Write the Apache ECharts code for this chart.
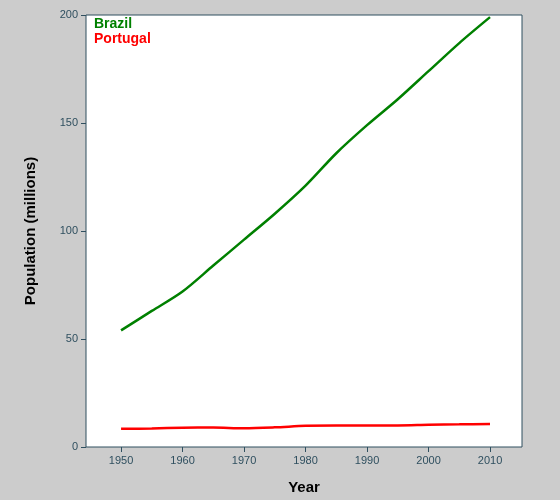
<!DOCTYPE html>
<html><head><meta charset="utf-8">
<script src="https://cdn.jsdelivr.net/npm/echarts@6/dist/echarts.min.js"></script>
<style>body{margin:0;background:#cccccc}#c{width:560px;height:500px}</style>
</head><body><div id="c"></div>
<script>
const years = [1950,1955,1960,1965,1970,1975,1980,1985,1990,1995,2000,2005,2010];
const brazil = [54,63,72,84,96,108,121,136,149,161,174,187,199];
const portugal = [8.4,8.6,8.9,9.0,8.7,9.1,9.8,10.0,10.0,10.0,10.3,10.5,10.7];
const xTicks = [1950,1960,1970,1980,1990,2000,2010];
const axisCol = '#2f4f5f';
const chart = echarts.init(document.getElementById('c'));
chart.setOption({
  backgroundColor:'#cccccc',
  animation:false,
  grid:{left:86,right:38,top:15,bottom:53,show:true,backgroundColor:'#ffffff',borderColor:axisCol,borderWidth:1},
  xAxis:{type:'value',min:1944.3,max:2015.2,name:'Year',nameLocation:'middle',nameGap:33,
    nameTextStyle:{fontFamily:'Liberation Sans',fontWeight:'bold',fontSize:15,color:'#000'},
    axisLine:{show:false},splitLine:{show:false},
    axisTick:{show:true,inside:false,length:5,lineStyle:{color:axisCol},customValues:xTicks},
    axisLabel:{color:axisCol,fontFamily:'Liberation Sans',fontSize:11,customValues:xTicks,formatter:v=>String(v)}},
  yAxis:{type:'value',min:0,max:200,interval:50,name:'Population (millions)',nameLocation:'middle',nameGap:48,
    nameTextStyle:{fontFamily:'Liberation Sans',fontWeight:'bold',fontSize:15,color:'#000'},
    axisLine:{show:false},splitLine:{show:false},
    axisTick:{show:true,length:5,lineStyle:{color:axisCol}},
    axisLabel:{color:axisCol,fontFamily:'Liberation Sans',fontSize:11}},
  graphic:[
    {type:'text',left:94,top:17,style:{text:'Brazil',fill:'#008000',font:'bold 14px Liberation Sans'}},
    {type:'text',left:94,top:32,style:{text:'Portugal',fill:'#ff0000',font:'bold 14px Liberation Sans'}}
  ],
  series:[
    {type:'line',data:years.map((y,i)=>[y,brazil[i]]),smooth:0.3,showSymbol:false,lineStyle:{color:'#008000',width:2.5}},
    {type:'line',data:years.map((y,i)=>[y,portugal[i]]),smooth:0.3,showSymbol:false,lineStyle:{color:'#ff0000',width:2.5}}
  ]
});
</script></body></html>
